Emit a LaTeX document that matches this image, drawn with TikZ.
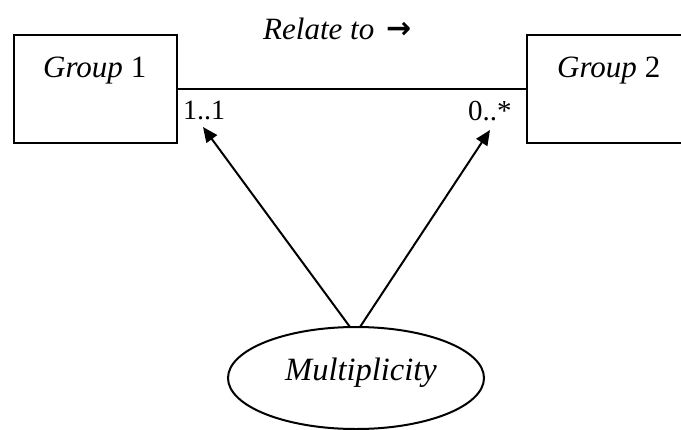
\documentclass[tikz,border=0pt]{standalone}
\usepackage{fontspec}
\setmainfont{Liberation Serif}
\newfontfamily\arrowfont{DejaVu Sans}
\usetikzlibrary{shapes.geometric,arrows.meta}
\begin{document}
\begin{tikzpicture}[x=1pt,y=-1pt,
  boxst/.style={draw,line width=2pt,inner sep=0pt},
  lbl/.style={inner sep=0pt,anchor=base west},
  conn/.style={line width=2pt},
  ptr/.style={line width=2pt,-{Triangle[length=15pt,width=13pt]}}]
\useasboundingbox (0,0) rectangle (681,429);
\node[boxst,minimum width=163pt,minimum height=108pt] (g1) at (95.5,89) {};
\node[boxst,minimum width=170pt,minimum height=108pt] (g2) at (612,89) {};
\draw[conn] (g1.east) -- (g2.west);
\node[lbl] (t1) at (43,77) {\fontsize{31}{34}\selectfont\itshape Group\/\upshape{} 1};
\node[lbl] (t2) at (557,77) {\fontsize{31}{34}\selectfont\itshape Group\/\upshape{} 2};
\node[lbl] (rel) at (263,39) {\fontsize{31}{34}\selectfont\itshape Relate to};
\node[lbl] (arr) at (386,38) {\fontsize{30}{34}\selectfont\arrowfont\bfseries →};
\node[lbl] (m1) at (183,119) {\fontsize{28}{32}\selectfont 1..1};
\node[lbl] (m2) at (468,120) {\fontsize{29}{32}\selectfont 0..*};
\node[draw,ellipse,line width=2pt,minimum width=256pt,minimum height=102pt,inner sep=0pt] (mu) at (356,378) {};
\node[lbl] (mt) at (285,380) {\fontsize{32.5}{36}\selectfont\itshape Multiplicity};
\coordinate (s1) at (350,327);
\coordinate (s2) at (360,327);
\coordinate (e1) at (203,127);
\coordinate (e2) at (490,130);
\draw[ptr] (s1) -- (e1);
\draw[ptr] (s2) -- (e2);
\end{tikzpicture}
\end{document}
